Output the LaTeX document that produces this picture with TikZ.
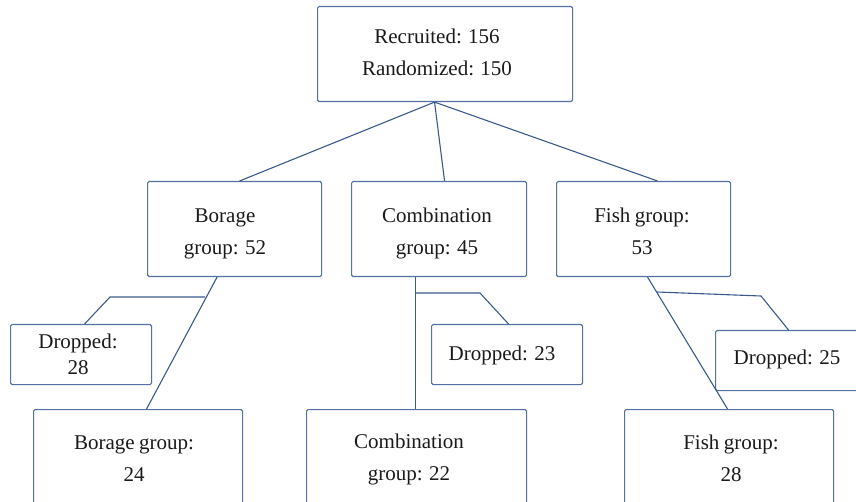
\documentclass[tikz,border=0pt]{standalone}
\usepackage{fontspec}
\setmainfont{Liberation Serif}[WordSpace=0.85]
\definecolor{boxc}{HTML}{5272A2}
\definecolor{linec}{HTML}{3A5A8C}
\definecolor{txt}{HTML}{1A1A1A}
\begin{document}
\begin{tikzpicture}[x=1pt,y=-1pt,
  box/.style={draw=boxc,line width=1.1pt,rounded corners=1.5pt,rectangle,inner sep=0pt,anchor=north west},
  lab/.style={text=txt,font=\fontsize{21}{32}\selectfont,align=center,inner sep=0pt},
  conn/.style={draw=linec,line width=1.1pt}]
\useasboundingbox (0,0) rectangle (856,502);
\clip (0,0) rectangle (856,502);
% boxes
\node[box,minimum width=255pt,minimum height=95pt] (top) at (317,6) {};
\node[box,minimum width=174pt,minimum height=95pt] (bor) at (147,181) {};
\node[box,minimum width=175pt,minimum height=95pt] (com) at (351,181) {};
\node[box,minimum width=174pt,minimum height=95pt] (fis) at (556,181) {};
\node[box,minimum width=141pt,minimum height=60pt] (dr1) at (10,324) {};
\node[box,minimum width=151pt,minimum height=60pt] (dr2) at (431,324) {};
\node[box,minimum width=160pt,minimum height=60pt] (dr3) at (715,330) {};
\node[box,minimum width=209pt,minimum height=120pt] (bor2) at (33,409) {};
\node[box,minimum width=220pt,minimum height=120pt] (com2) at (306,409) {};
\node[box,minimum width=209pt,minimum height=120pt] (fis2) at (624,409) {};
% labels
\node[lab] (ttop) at (437,52) {Recruited: 156\\Randomized: 150};
\node[lab] (tbor) at (225,234) {Borage\\group: 52};
\node[lab] (tcom) at (437,233) {Combination\\group: 45};
\node[lab] (tfis) at (642,231) {Fish group:\\53};
\node[lab,font=\fontsize{21}{26}\selectfont] (tdr1) at (78,354) {Dropped:\\28};
\node[lab] (tdr2) at (502,355) {Dropped: 23};
\node[lab] (tdr3) at (787,359) {Dropped: 25};
\node[lab] (tbor2) at (134,459) {Borage group:\\24};
\node[lab] (tcom2) at (409,459) {Combination\\group: 22};
\node[lab] (tfis2) at (731,458) {Fish group:\\28};
% connector points
\coordinate (tp) at ([xshift=-10.5pt]top.south);
\coordinate (jb) at (205,297);
\coordinate (kb) at (110,297);
\coordinate (jc) at (415,293);
\coordinate (kc) at (480,293);
\coordinate (jf) at (657,292);
\coordinate (kf) at (761,296);
% connectors
\draw[conn] (tp) -- ([xshift=5pt]bor.north);
\draw[conn] (tp) -- ([xshift=5.5pt]com.north);
\draw[conn] (tp) -- ([xshift=14pt]fis.north);
\draw[conn] ([xshift=-17.5pt]bor.south) -- ([xshift=8.5pt]bor2.north);
\draw[conn] (jb) -- (kb) -- ([xshift=3.5pt]dr1.north);
\draw[conn] ([xshift=-23.5pt]com.south) -- ([xshift=-1pt]com2.north);
\draw[conn] (jc) -- (kc) -- ([xshift=1.5pt]dr2.north);
\draw[conn] ([xshift=4pt]fis.south) -- ([xshift=-1.5pt]fis2.north);
\draw[conn] (jf) -- (kf) -- ([xshift=-7pt]dr3.north);
\end{tikzpicture}
\end{document}
